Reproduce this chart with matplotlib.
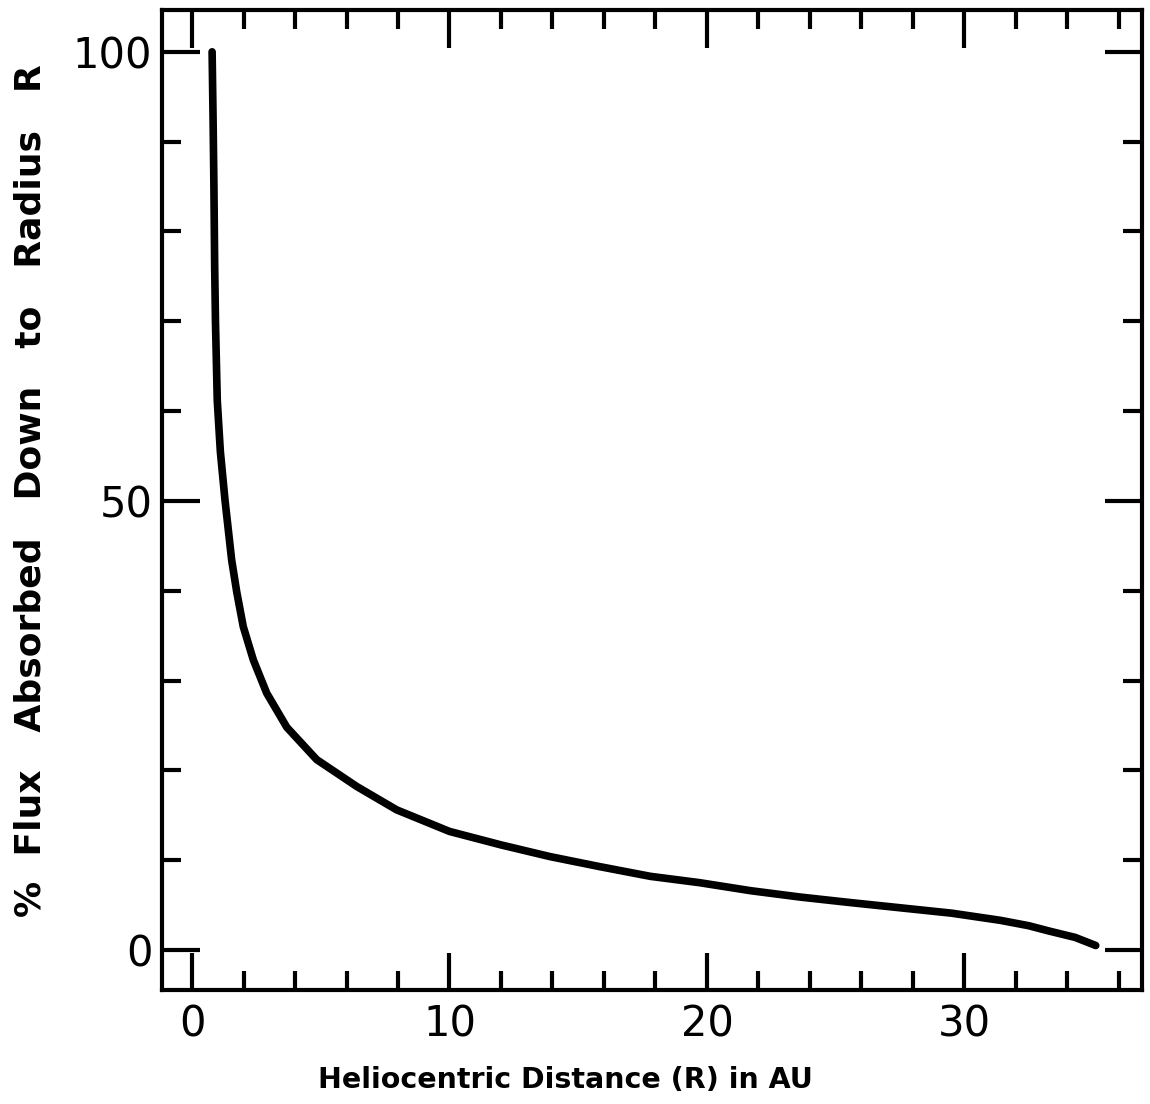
import matplotlib
matplotlib.use("Agg")
import matplotlib.pyplot as plt
from matplotlib.ticker import MultipleLocator

# curve: distance (AU) vs % flux absorbed
dist_au = [0.78, 0.82, 0.85, 0.88, 0.91, 0.98, 1.1, 1.28, 1.54, 1.74, 1.99,
           2.38, 2.9, 3.68, 4.84, 6.4, 7.95, 10.0, 12.0, 13.9, 15.8, 17.8,
           19.7, 21.7, 23.6, 25.5, 27.5, 29.5, 31.4, 32.5, 33.3, 34.3, 35.1]
flux_pct = [100.0, 92.0, 85.0, 76.0, 70.0, 61.2, 55.5, 50.1, 43.4, 39.8, 36.0,
            32.3, 28.6, 24.8, 21.2, 18.2, 15.6, 13.2, 11.7, 10.4, 9.3, 8.2,
            7.5, 6.6, 5.9, 5.3, 4.7, 4.1, 3.3, 2.7, 2.1, 1.4, 0.5]

x_labels = [0, 10, 20, 30]
y_labels = [0, 50, 100]

plt.rcParams['font.family'] = ['DejaVu Sans']

fig = plt.figure(figsize=(11.5, 11.04), dpi=100)
ax = fig.add_axes([0.1409, 0.1033, 0.852, 0.888])

ax.plot(dist_au, flux_pct, color="black", lw=5.5,
        solid_capstyle="round", solid_joinstyle="round")

ax.set_xlim(-1.165, 36.89)
ax.set_ylim(-4.45, 104.7)

ax.set_xticks(x_labels)
ax.set_yticks(y_labels)
ax.xaxis.set_minor_locator(MultipleLocator(2))
ax.yaxis.set_minor_locator(MultipleLocator(10))

for s in ax.spines.values():
    s.set_linewidth(3)

ax.tick_params(which="both", direction="in", top=True, right=True, width=3,
               labelsize=30, pad=10)
ax.tick_params(which="major", length=27)
ax.tick_params(which="minor", length=14)
ax.tick_params(axis="y", pad=7)

fig.text(565 / 1150, 1 - 1080 / 1104, "Heliocentric Distance (R) in AU",
         ha="center", va="center", fontsize=20.5, fontweight="bold")
fig.text(31 / 1150, 1 - 491 / 1104, "%  Flux   Absorbed   Down   to   Radius   R",
         ha="center", va="center", rotation=90, fontsize=26, fontweight="bold")

fig.savefig("out.png", dpi=100)
